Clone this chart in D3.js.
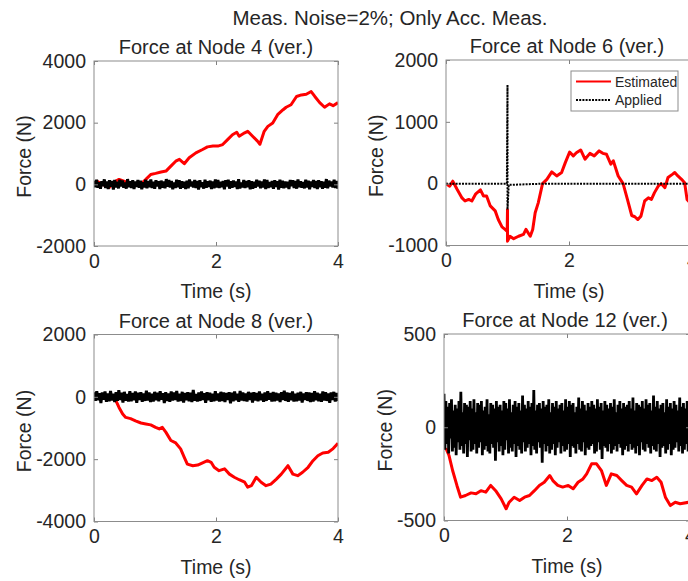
<!DOCTYPE html>
<html>
<head>
<meta charset="utf-8">
<script src="https://cdn.jsdelivr.net/npm/d3@7"></script>
<style>
  html, body { margin: 0; padding: 0; background: #fff; }
  svg { display: block; }
  text { font-family: "Liberation Sans", Arial, Helvetica, sans-serif; fill: #262626; }
</style>
</head>
<body>
<svg id="chart" width="688" height="581"></svg>
<script>
// ---------------- DATA ----------------
const mainTitle = "Meas. Noise=2%; Only Acc. Meas.";
const panelTitles = ["Force at Node 4 (ver.)", "Force at Node 6 (ver.)", "Force at Node 8 (ver.)", "Force at Node 12 (ver.)"];
const xTicks = [0, 2, 4];
const yTicks4 = [-2000, 0, 2000, 4000];
const yTicks6 = [-1000, 0, 1000, 2000];
const yTicks8 = [-4000, -2000, 0, 2000];
const yTicks12 = [-500, 0, 500];
const legendLabels = ["Estimated", "Applied"];

// Estimated force (red), [time s, force N]
const est4 = [[0,0],[0.05,100],[0.14,0],[0.25,-100],[0.33,75],[0.41,160],[0.49,100],[0.58,30],[0.68,0],[0.79,50],[0.85,160],[0.93,320],[1.01,355],[1.10,400],[1.18,430],[1.26,590],[1.34,750],[1.40,810],[1.48,670],[1.56,860],[1.67,1020],[1.78,1130],[1.86,1215],[1.95,1240],[2.03,1240],[2.11,1290],[2.19,1450],[2.27,1610],[2.34,1690],[2.38,1560],[2.47,1670],[2.52,1720],[2.60,1560],[2.68,1400],[2.72,1300],[2.79,1720],[2.85,1880],[2.93,1990],[3.01,2260],[3.10,2420],[3.15,2500],[3.23,2580],[3.32,2850],[3.40,2900],[3.48,2920],[3.56,3010],[3.62,2850],[3.70,2650],[3.78,2500],[3.86,2610],[3.92,2550],[4.0,2650]];
const est6 = [[0,0],[0.06,-40],[0.11,40],[0.18,-90],[0.26,-230],[0.31,-280],[0.37,-255],[0.42,-280],[0.48,-170],[0.56,-100],[0.61,-200],[0.66,-200],[0.72,-360],[0.80,-440],[0.85,-580],[0.91,-700],[0.96,-740],[0.995,-770],[1.0,-420],[1.0,-930],[1.04,-850],[1.10,-890],[1.18,-850],[1.26,-820],[1.30,-740],[1.37,-850],[1.41,-740],[1.45,-470],[1.50,-310],[1.57,0],[1.64,70],[1.72,190],[1.80,125],[1.88,180],[1.94,340],[2.01,510],[2.07,450],[2.12,500],[2.19,545],[2.26,395],[2.34,490],[2.41,450],[2.49,530],[2.55,490],[2.61,475],[2.68,315],[2.72,370],[2.80,125],[2.88,0],[2.95,-255],[3.02,-515],[3.07,-535],[3.12,-580],[3.17,-525],[3.23,-280],[3.29,-230],[3.34,-255],[3.39,-145],[3.45,-40],[3.50,0],[3.56,-65],[3.61,100],[3.68,150],[3.72,180],[3.77,125],[3.83,70],[3.88,15],[3.92,-255],[4.0,-350]];
const est8 = [[0,0],[0.33,0],[0.41,-340],[0.47,-550],[0.52,-660],[0.60,-700],[0.68,-770],[0.77,-840],[0.85,-870],[0.93,-900],[1.01,-980],[1.07,-1030],[1.12,-980],[1.18,-1140],[1.26,-1400],[1.34,-1480],[1.42,-1670],[1.48,-1940],[1.53,-2160],[1.62,-2210],[1.70,-2190],[1.78,-2120],[1.86,-2050],[1.92,-2100],[1.97,-2260],[2.05,-2370],[2.14,-2310],[2.22,-2480],[2.30,-2580],[2.38,-2660],[2.47,-2740],[2.52,-2900],[2.58,-2850],[2.66,-2580],[2.74,-2740],[2.82,-2850],[2.90,-2800],[2.99,-2640],[3.07,-2480],[3.18,-2210],[3.26,-2480],[3.34,-2530],[3.42,-2420],[3.51,-2260],[3.59,-2050],[3.67,-1890],[3.75,-1800],[3.84,-1780],[3.92,-1660],[4.0,-1490]];
const est12 = [[0.03,-112],[0.08,-150],[0.14,-232],[0.21,-312],[0.27,-375],[0.35,-366],[0.44,-352],[0.52,-357],[0.60,-340],[0.68,-348],[0.76,-312],[0.84,-340],[0.93,-384],[1.01,-437],[1.06,-402],[1.14,-375],[1.23,-393],[1.31,-375],[1.39,-366],[1.47,-340],[1.55,-312],[1.63,-295],[1.72,-259],[1.77,-286],[1.85,-312],[1.93,-321],[2.02,-312],[2.10,-330],[2.18,-295],[2.26,-277],[2.32,-250],[2.40,-196],[2.48,-196],[2.56,-232],[2.64,-312],[2.72,-250],[2.81,-259],[2.89,-286],[2.97,-312],[3.05,-321],[3.13,-357],[3.22,-312],[3.30,-277],[3.38,-286],[3.46,-268],[3.53,-295],[3.60,-375],[3.68,-420],[3.76,-402],[3.84,-410],[3.98,-402],[4.0,-405]];

// Applied force (black), noisy records sampled evenly over 0..4 s
const applied4 = [120,-90,150,-110,70,-140,100,-60,160,-120,90,-150,130,-80,110,-170,140,-100,80,-130,150,-70,120,-110,60,-140,170,-90,100,-120,130,-150,90,-80,140,-110,120,-160,70,-100,150,-130,110,-90,160,-120,80,-140,130,-70,100,-150,120,-110,90,-130,170,-80,140,-100,110,-160,60,-120,150,-90,130,-140,100,-110,80,-150,120,-130,160,-70,90,-100,140,-120,110,-170,130,-90,70,-140,150,-110,100,-80,120,-150,90,-130,160,-100,140,-120,80,-90,110,-160,130,-70,150,-140,100,-110,120,-80,90,-150,170,-130,60,-100,140,-120,110,-90,130,-160,100,-140,80,-110,150,-70,120,-130,90,-100,160,-150,140,-120,70,-90,110,-140,130,-80,100,-170,150,-110,120,-130,90,-100,80,-150,140,-60,130,-120,110,-140,160,-90,100,-110,70,-130,150,-100,120,-160,90,-80,140,-120,110,-150,130,-90,100,-140,80,-110,170,-130,120,-70,90,-100,150,-120,110,-140];
const applied8 = [150,-130,180,-110,120,-200,140,-90,170,-160,110,-140,190,-120,100,-170,150,-130,210,-100,130,-180,160,-120,90,-150,180,-140,120,-110,170,-190,130,-100,150,-160,110,-130,200,-120,140,-170,100,-150,160,-110,130,-140,180,-90,120,-200,150,-130,110,-160,170,-120,140,-100,190,-150,100,-130,160,-180,120,-110,150,-140,130,-170,220,-120,90,-150,140,-130,170,-100,120,-190,150,-110,130,-160,100,-140,180,-120,110,-150,160,-130,140,-170,120,-100,150,-210,130,-140,170,-110,100,-160,190,-120,140,-130,110,-150,160,-100,130,-180,150,-120,120,-140,170,-110,100,-160,140,-130,180,-90,120,-150,160,-140,130,-120,110,-170,150,-100,200,-130,140,-160,120,-110,170,-150,100,-140,130,-120,160,-180,110,-100,150,-130,140,-170,120,-150,180,-110,130,-140,100,-160,170,-120,150,-130,110,-190,140,-100,160,-150,120,-130];
const applied12 = [180,-120,140,-90,110,-140,130,-60,150,-130,90,-110,120,-150,100,-80,140,-120,190,-100,80,-140,130,-90,120,-160,110,-70,140,-130,100,-120,150,-90,80,-140,130,-110,120,-80,140,-150,90,-120,110,-100,150,-130,70,-140,130,-90,120,-110,100,-180,140,-80,110,-130,120,-100,90,-150,140,-120,130,-70,100,-140,150,-110,80,-130,120,-90,140,-160,110,-100,130,-120,90,-140,170,-80,120,-130,100,-110,140,-90,110,-150,130,-100,200,-120,90,-140,120,-80,130,-110,100,-190,140,-90,110,-130,120,-100,150,-140,80,-120,130,-90,110,-150,140,-110,100,-80,120,-140,130,-100,90,-130,150,-120,110,-90,140,-160,120,-100,130,-110,80,-140,110,-90,160,-120,100,-130,140,-80,120,-150,90,-110,130,-120,110,-100,140,-90,120,-140,100,-130,150,-80,110,-120,130,-170,90,-100,140,-110,120,-130,100,-90,130,-140,110,-120,150,-100,80,-130,120,-90,140,-110,100,-150,130,-120,110,-100,120,-130,140,-90,100,-120,160,-110,90,-140,130,-100,120,-150,110,-80,140,-120,100,-130,150,-90,120,-110,130,-140,90,-100,170,-120,110,-130,140,-90,100,-160,120,-110,130,-100,80,-140,150,-120,110,-90,130,-150,100,-120,140,-110,120,-80,90,-130,160,-100,110,-140,130,-120,100,-90,140,-130,120,-110];
const applied6 = [[0,0],[0.99,0],[1.0,1600],[1.0,-420],[1.02,-20],[1.3,-10],[1.6,0],[4.0,0]];

// ---------------- DRAW ----------------
const svg = d3.select("#chart");
svg.append("rect").attr("width", 688).attr("height", 581).attr("fill", "#fff");

const toSeries = arr => arr.map((v, i) => [i * 4 / (arr.length - 1), v]);
const fmt = d => String(d);

const panels = [
  { title: panelTitles[0], yTicks: yTicks4, est: est4, app: toSeries(applied4), dotted: false,
    box: { x0: 94, x1: 338, y0: 61, y1: 246 }, ylabX: 25, appW: 3 },
  { title: panelTitles[1], yTicks: yTicks6, est: est6, app: applied6, dotted: true, legend: true,
    box: { x0: 446, x1: 692, y0: 60, y1: 245.5 }, ylabX: 377, appW: 2 },
  { title: panelTitles[2], yTicks: yTicks8, est: est8, app: toSeries(applied8), dotted: false,
    box: { x0: 94, x1: 338, y0: 334.5, y1: 521.5 }, ylabX: 25, appW: 3 },
  { title: panelTitles[3], yTicks: yTicks12, est: est12, app: toSeries(applied12), dotted: false,
    box: { x0: 444, x1: 690, y0: 334, y1: 520.5 }, ylabX: 386, appW: 2.8 }
];

svg.append("text").attr("x", 390).attr("y", 25).attr("text-anchor", "middle")
  .attr("font-size", 20.5).text(mainTitle);

panels.forEach((p, idx) => {
  const b = p.box;
  const yDom = d3.extent(p.yTicks);
  const x = d3.scaleLinear().domain([0, 4]).range([b.x0, b.x1]);
  const y = d3.scaleLinear().domain(yDom).range([b.y1, b.y0]);
  const g = svg.append("g");
  const clipId = "clip" + idx;
  svg.append("clipPath").attr("id", clipId).append("rect")
    .attr("x", b.x0).attr("y", b.y0).attr("width", b.x1 - b.x0).attr("height", b.y1 - b.y0);

  const line = d3.line().x(d => x(d[0])).y(d => y(d[1]));
  const plot = g.append("g").attr("clip-path", `url(#${clipId})`);
  plot.append("path").datum(p.est).attr("d", line).attr("fill", "none")
    .attr("stroke", "#ff0000").attr("stroke-width", 3).attr("stroke-linejoin", "round");
  const ap = plot.append("path").datum(p.app).attr("d", line).attr("fill", "none")
    .attr("stroke", "#000").attr("stroke-width", p.appW).attr("stroke-linejoin", "bevel");
  if (p.dotted) ap.attr("stroke-dasharray", "2,1.2");

  // axes (ticks inward, MATLAB style)
  const axB = d3.axisBottom(x).tickValues(xTicks).tickSize(-4).tickPadding(8).tickFormat(fmt);
  const axT = d3.axisTop(x).tickValues(xTicks).tickSize(-4).tickFormat("");
  const axL = d3.axisLeft(y).tickValues(p.yTicks).tickSize(-4).tickPadding(8).tickFormat(fmt);
  const axR = d3.axisRight(y).tickValues(p.yTicks).tickSize(-4).tickFormat("");
  const style = sel => {
    sel.select(".domain").remove();
    sel.selectAll(".tick line").attr("stroke", "#808080");
    sel.selectAll("text").attr("font-size", 19.5).attr("fill", "#262626")
      .attr("font-family", '"Liberation Sans", Arial, sans-serif');
  };
  g.append("g").attr("transform", `translate(0,${b.y1})`).call(axB).call(style);
  g.append("g").attr("transform", `translate(0,${b.y0})`).call(axT).call(style);
  g.append("g").attr("transform", `translate(${b.x0},0)`).call(axL).call(style);
  g.append("g").attr("transform", `translate(${b.x1},0)`).call(axR).call(style);

  g.append("rect").attr("x", b.x0).attr("y", b.y0).attr("width", b.x1 - b.x0).attr("height", b.y1 - b.y0)
    .attr("fill", "none").attr("stroke", "#8c8c8c").attr("stroke-width", 1);

  g.append("text").attr("x", (b.x0 + b.x1) / 2 - (idx % 2 ? 2 : 0)).attr("y", b.y0 - 7)
    .attr("text-anchor", "middle").attr("font-size", 20).text(p.title);
  g.append("text").attr("x", (b.x0 + b.x1) / 2).attr("y", b.y1 + 52)
    .attr("text-anchor", "middle").attr("font-size", 19.5).text("Time (s)");
  g.append("text").attr("transform", `translate(${p.ylabX + 6},${(b.y0 + b.y1) / 2 + 3}) rotate(-90)`)
    .attr("text-anchor", "middle").attr("font-size", 19.5).text("Force (N)");

  if (p.legend) {
    const lg = g.append("g");
    lg.append("rect").attr("x", 571).attr("y", 71).attr("width", 107).attr("height", 40)
      .attr("fill", "#fff").attr("stroke", "#8c8c8c").attr("stroke-width", 1);
    lg.append("line").attr("x1", 576).attr("x2", 611).attr("y1", 81.5).attr("y2", 81.5)
      .attr("stroke", "#ff0000").attr("stroke-width", 2);
    lg.append("line").attr("x1", 576).attr("x2", 611).attr("y1", 100).attr("y2", 100)
      .attr("stroke", "#000").attr("stroke-width", 2).attr("stroke-dasharray", "2,1.2");
    lg.append("text").attr("x", 615).attr("y", 86.5).attr("font-size", 14).text(legendLabels[0]);
    lg.append("text").attr("x", 615).attr("y", 105).attr("font-size", 14).text(legendLabels[1]);
  }
});
</script>
</body>
</html>
